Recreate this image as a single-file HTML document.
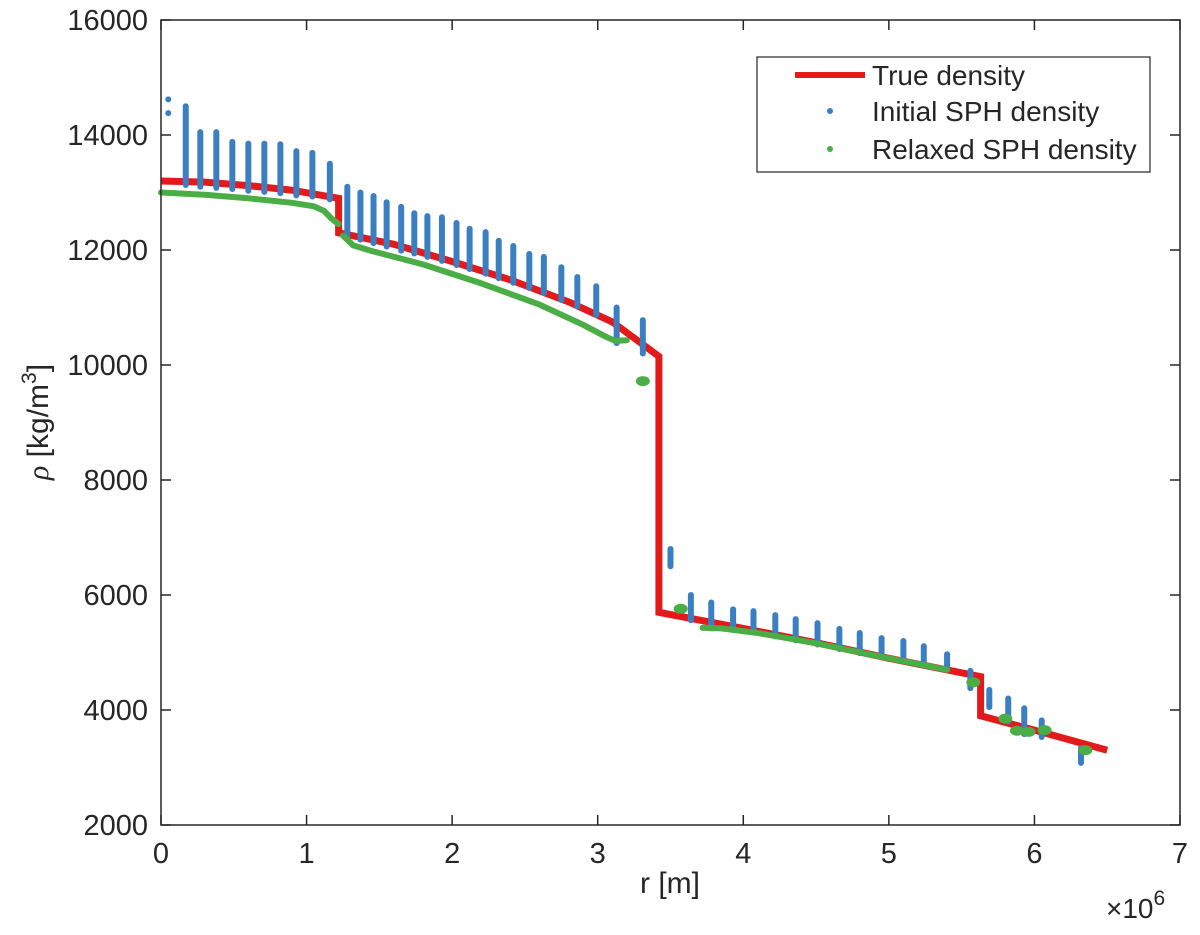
<!DOCTYPE html>
<html><head><meta charset="utf-8"><style>
body{margin:0;background:#fff}
svg text{font-family:"Liberation Sans",sans-serif;fill:#262626}
</style></head><body>
<svg id="chart" width="1200" height="930" viewBox="0 0 1200 930" xmlns="http://www.w3.org/2000/svg">
<rect width="1200" height="930" fill="#fff"/>
<g id="plot"></g>
<g id="axes"></g>
</svg>
<script>
// True density profile (r in 1e6 m, rho)
const trueR = [0,0.3,0.6,0.9,1.22,1.22,1.6,2.0,2.4,2.8,3.1,3.42,3.42,4.0,4.5,5.0,5.63,5.63,6.0,6.5];
const trueRho = [13200,13180,13120,13040,12900,12300,12100,11800,11480,11100,10750,10150,5700,5420,5170,4900,4580,3900,3650,3300];
// Relaxed SPH (green) curves
const relR1 = [0,0.3,0.6,0.9,1.05,1.12,1.17,1.22];
const relRho1 = [13000,12960,12900,12820,12760,12680,12550,12450];
const relR2 = [1.25,1.32,1.45,1.8,2.2,2.6,2.9,3.05,3.12,3.2];
const relRho2 = [12250,12080,11980,11750,11420,11050,10700,10500,10420,10430];
const relR3 = [3.72,3.85,4.1,4.5,4.9,5.2,5.4];
const relRho3 = [5430,5420,5340,5160,4950,4800,4700];
const blobR = [3.31,3.57,5.58,5.8,5.88,5.96,6.07,6.35];
const blobRho = [9720,5760,4480,3850,3640,3620,3650,3300];
// Initial SPH (blue) columns
const colR = [0.17,0.27,0.38,0.49,0.60,0.71,0.82,0.93,1.04,1.16,1.28,1.37,1.46,1.55,1.65,1.74,1.83,1.93,2.03,2.12,2.23,2.32,2.42,2.53,2.63,2.75,2.86,2.99,3.13,3.31,3.50,3.64,3.78,3.93,4.07,4.22,4.36,4.51,4.66,4.80,4.95,5.10,5.24,5.40,5.56,5.69,5.82,5.93,6.05,6.32];
const colTop = [14500,14050,14050,13880,13850,13850,13840,13720,13690,13500,13100,13000,12940,12830,12750,12640,12590,12570,12470,12370,12310,12160,12070,11930,11880,11700,11530,11370,11000,10780,6800,6000,5870,5750,5720,5650,5580,5510,5410,5340,5250,5200,5110,4970,4680,4350,4200,4030,3820,3340];
const colBot = [13130,13100,13080,13060,13030,13010,12990,12950,12930,12880,12220,12180,12120,12060,11990,11940,11880,11810,11740,11670,11590,11510,11430,11340,11250,11130,11020,10870,10380,10200,6500,5560,5480,5420,5350,5280,5210,5140,5060,4990,4920,4850,4780,4700,4380,4050,3800,3580,3530,3080];
const inner0R = [0.05,0.05];
const inner0Rho = [14620,14380];
const legendLabels = ["True density","Initial SPH density","Relaxed SPH density"];
const xTicks = [0,1,2,3,4,5,6,7];
const yTicks = [2000,4000,6000,8000,10000,12000,14000,16000];

const X0=161,X1=1180,Y0=825,Y1=20;
const xs = v => X0 + (v-0)/(7-0)*(X1-X0);
const ys = v => Y0 - (v-2000)/(16000-2000)*(Y0-Y1);
const NS="http://www.w3.org/2000/svg";
const plot=document.getElementById('plot'), axes=document.getElementById('axes');
function mk(tag,attrs,parent){const e=document.createElementNS(NS,tag);for(const k in attrs)e.setAttribute(k,attrs[k]);parent.appendChild(e);return e;}
function pts(R,V){return R.map((r,i)=>xs(r).toFixed(1)+','+ys(V[i]).toFixed(1)).join(' ');}

const RED="#e31a1c",BLUE="#3a7fc2",GREEN="#4aad45";
let e;
e=mk('polyline',{points:pts(trueR,trueRho),fill:'none',stroke:RED,'stroke-width':7,'stroke-linejoin':'miter'},plot);


for(let i=0;i<colR.length;i++){
  e=mk('line',{x1:xs(colR[i]),x2:xs(colR[i]),y1:ys(colTop[i]),y2:ys(colBot[i]),stroke:BLUE,'stroke-width':6,'stroke-linecap':'round'},plot);
  
  
}
for(let i=0;i<inner0R.length;i++){
  e=mk('circle',{cx:xs(inner0R[i]),cy:ys(inner0Rho[i]),r:3,fill:BLUE},plot);
  
  
}
[[relR1,relRho1],[relR2,relRho2],[relR3,relRho3]].forEach(([R,V])=>{
  e=mk('polyline',{points:pts(R,V),fill:'none',stroke:GREEN,'stroke-width':6,'stroke-linecap':'round','stroke-linejoin':'round'},plot);
  
  
});
for(let i=0;i<blobR.length;i++){
  e=mk('ellipse',{cx:xs(blobR[i]),cy:ys(blobRho[i]),rx:7,ry:5,fill:GREEN},plot);
  
  
}
e=mk('rect',{x:X0,y:Y1,width:X1-X0,height:Y0-Y1,fill:'none',stroke:'#262626','stroke-width':1.5},axes);


xTicks.forEach(t=>{
  const x=xs(t);
  mk('line',{x1:x,x2:x,y1:Y0,y2:Y0-10,stroke:'#262626','stroke-width':1.5},axes);
  mk('line',{x1:x,x2:x,y1:Y1,y2:Y1+10,stroke:'#262626','stroke-width':1.5},axes);
  e=mk('text',{x:x,y:Y0+38,'text-anchor':'middle','font-size':29},axes);
  e.textContent=t;
  
  
});
yTicks.forEach(t=>{
  const y=ys(t);
  mk('line',{x1:X0,x2:X0+10,y1:y,y2:y,stroke:'#262626','stroke-width':1.5},axes);
  mk('line',{x1:X1,x2:X1-10,y1:y,y2:y,stroke:'#262626','stroke-width':1.5},axes);
  e=mk('text',{x:X0-13,y:y+10,'text-anchor':'end','font-size':29},axes);
  e.textContent=t;
  
  
});
e=mk('text',{x:670,y:893,'text-anchor':'middle','font-size':30},axes);
e.textContent='r [m]';


e=mk('text',{x:1106,y:918,'font-size':28},axes);
e.innerHTML='×10<tspan dy="-13" font-size="21">6</tspan>';


e=mk('text',{x:0,y:0,'text-anchor':'middle','font-size':30,transform:'translate(48,422) rotate(-90)'},axes);
e.innerHTML='<tspan font-style="italic" font-family="Liberation Serif">ρ</tspan> [kg/m<tspan dy="-12" font-size="21">3</tspan><tspan dy="12">]</tspan>';


const lg=mk('g',{},axes);


mk('rect',{x:757,y:57,width:393,height:115,fill:'#fff',stroke:'#262626','stroke-width':1.2},lg);
const rowsY=[75,111,149];
legendLabels.forEach((lab,i)=>{
  const y=rowsY[i];
  if(i===0) mk('line',{x1:795,x2:865,y1:y,y2:y,stroke:RED,'stroke-width':6},lg);
  else mk('circle',{cx:830,cy:y,r:3,fill:i===1?BLUE:GREEN},lg);
  e=mk('text',{x:872,y:y+10,'font-size':28},lg);
  e.textContent=lab;
  
  
});
</script>
</body></html>
